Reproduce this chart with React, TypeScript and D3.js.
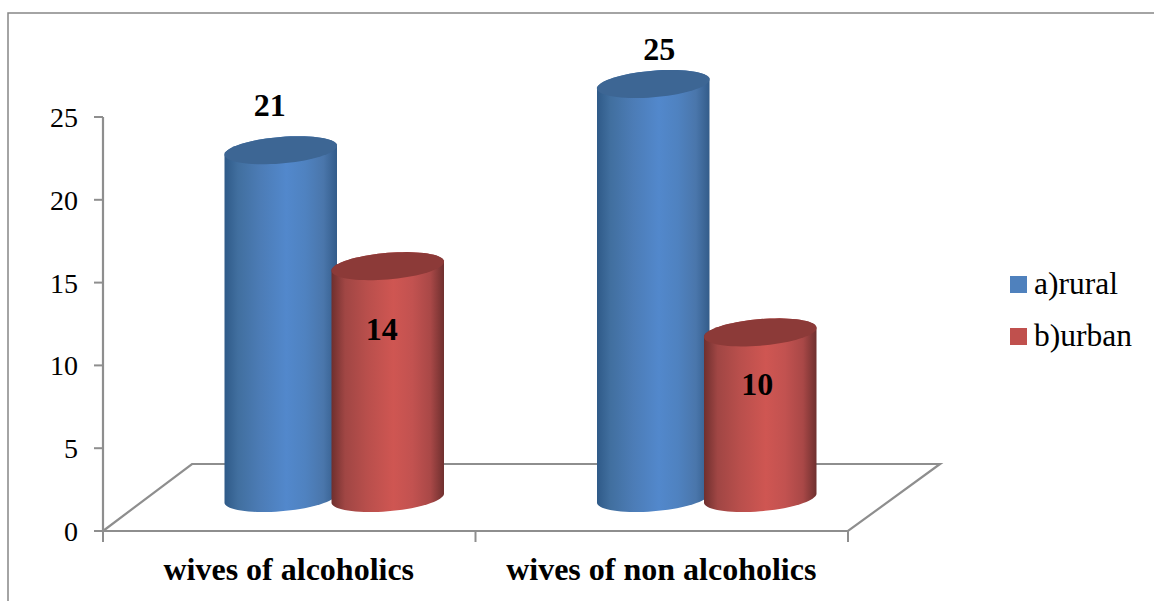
import React from "react";
import * as d3 from "d3";

const categories = ["wives of alcoholics", "wives of non alcoholics"];
const seriesNames = ["a)rural", "b)urban"];
const rural = [21, 25];
const urban = [14, 10];
const yTicks = [0, 5, 10, 15, 20, 25];
const palettes = [
  { id: "rural", top: "#3d6694", stops: ["#2f5a88", "#416f9f", "#4c7cb6", "#5288cc", "#4f82c0", "#4a76ab", "#335c8a"], swatch: "#4f81bd" },
  { id: "urban", top: "#8c3a38", stops: ["#6f2f2e", "#a04644", "#b94f4c", "#cf5652", "#c25250", "#a94847", "#6f302f"], swatch: "#c0504d" },
];

const W = 1154, H = 601;
const y = d3.scaleLinear().domain([0, 25]).range([531, 117]);
const x = d3.scaleLinear().domain([0, 2]).range([103, 848]);
const depthX = 89, depthY = 67;
const baseLift = 33;
const barW = 112.5, rx = barW / 2, tilt = 4.5, ryy = 13.3;
const serif = "'Liberation Serif', 'Times New Roman', serif";
const axisColor = "#8e8e8e";

const thetas = d3.range(0, 361, 5).map((d) => (d * Math.PI) / 180);
const ell = (cx: number, cy: number, t: number): [number, number] => [
  cx + rx * Math.cos(t),
  cy - tilt * Math.cos(t) + ryy * Math.sin(t),
];
const line = d3.line();

function cylinder(cx: number, topY: number, botY: number) {
  const bottomArc = thetas.filter((t) => t <= Math.PI + 1e-6).map((t) => ell(cx, botY, t));
  const topArc = thetas.filter((t) => t >= Math.PI - 1e-6).map((t) => ell(cx, topY, t));
  const body = line([...bottomArc, ...topArc])! + "Z";
  const cap = line(thetas.map((t) => ell(cx, topY, t)))! + "Z";
  return { body, cap };
}

const groupCenters = [0.5, 1.5].map((d) => x(d));
const depthShift = depthX / 2 + 1;
const offsets = [-53.5, 53.5];
const seriesValues = [rural, urban];
// label placement relative to each bar's axis / absolute baseline, by [category][series]
const labelDx = [[-11, -6], [6, -3]];
const labelBaseline = [[116, 340], [60, 395]];

export default function App() {
  const baseY = y(0) - baseLift;
  const bars: React.ReactNode[] = [];
  categories.forEach((_, i) => {
    seriesValues.forEach((vals, s) => {
      const cx = groupCenters[i] + offsets[s] + depthShift - 0.5;
      const topY = y(vals[i]) - baseLift;
      const { body, cap } = cylinder(cx, topY, baseY);
      bars.push(
        <g key={`${i}-${s}`}>
          <path d={body} fill={`url(#grad-${palettes[s].id})`} />
          <path d={cap} fill={palettes[s].top} />
        </g>
      );
    });
  });
  return (
    <svg
      width={W}
      height={H}
      viewBox={`0 0 ${W} ${H}`}
      style={{ position: "absolute", left: 0, top: 0, background: "#fff" }}
    >
      <defs>
        {palettes.map((p) => (
          <linearGradient key={p.id} id={`grad-${p.id}`} x1="0" x2="1" y1="0" y2="0">
            {p.stops.map((c, i) => (
              <stop key={i} offset={[0, 0.12, 0.32, 0.55, 0.72, 0.88, 1][i]} stopColor={c} />
            ))}
          </linearGradient>
        ))}
      </defs>
      <path d={`M8 ${H}V13H${W}`} fill="none" stroke="#868686" strokeWidth={1.5} />
      {/* floor */}
      <path
        d={`M${x(0)} ${y(0)}L${x(0) + depthX} ${y(0) - depthY}H${x(2) + depthX + 3}L${x(2)} ${y(0)}Z`}
        fill="none"
        stroke={axisColor}
        strokeWidth={2.2}
      />
      {/* y axis */}
      <path d={`M${x(0)} ${y(25)}V${y(0)}`} stroke={axisColor} strokeWidth={2.2} fill="none" />
      {yTicks.map((t) => (
        <g key={t}>
          <line x1={94} x2={x(0)} y1={y(t)} y2={y(t)} stroke={axisColor} strokeWidth={2} />
          <text x={78} y={y(t) + 10} textAnchor="end" fontFamily={serif} fontSize={28} fill="#000">
            {t}
          </text>
        </g>
      ))}
      {[0, 1, 2].map((t) => (
        <line key={t} x1={x(t)} x2={x(t)} y1={y(0)} y2={y(0) + 11} stroke={axisColor} strokeWidth={2} />
      ))}
      {categories.map((c, i) => (
        <text
          key={c}
          x={groupCenters[i] - 0.5}
          y={580}
          textAnchor="middle"
          fontFamily={serif}
          fontWeight="bold"
          fontSize={32}
          fill="#000"
        >
          {c}
        </text>
      ))}
      {bars}
      {/* data labels */}
      {categories.map((_, i) => (
        <g key={i}>
          {seriesValues.map((vals, s) => (
            <text
              key={s}
              x={groupCenters[i] + offsets[s] + depthShift - 0.5 + labelDx[i][s]}
              y={labelBaseline[i][s]}
              textAnchor="middle"
              fontFamily={serif}
              fontWeight="bold"
              fontSize={32}
              fill="#000"
            >
              {vals[i]}
            </text>
          ))}
        </g>
      ))}
      {/* legend */}
      {seriesNames.map((n, i) => (
        <g key={n}>
          <rect x={1010} y={276 + i * 52} width={17} height={17} fill={palettes[i].swatch} />
          <text x={1034} y={294 + i * 52} fontFamily={serif} fontSize={31.5} fill="#000">
            {n}
          </text>
        </g>
      ))}
    </svg>
  );
}
